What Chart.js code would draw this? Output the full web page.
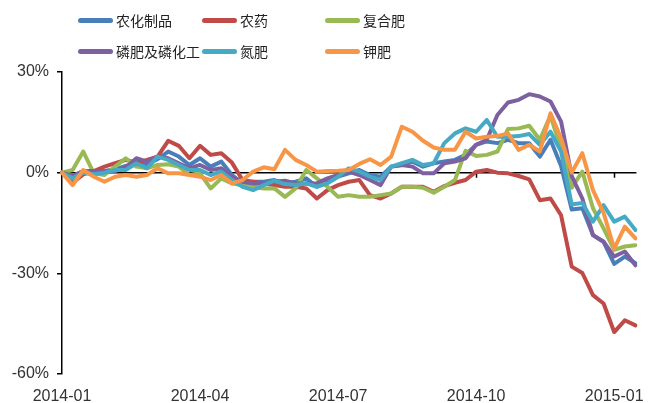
<!DOCTYPE html>
<html>
<head>
<meta charset="utf-8">
<script src="https://cdn.jsdelivr.net/npm/chart.js@4.4.1/dist/chart.umd.min.js"></script>
<style>
  html, body { margin: 0; padding: 0; background: #fff; }
  #wrap { position: relative; width: 657px; height: 403px; }
  #chart { position: absolute; left: 0; top: 0; }
  .leg { position: absolute; height: 20px; display: flex; align-items: center;
         font-family: "Noto Sans CJK SC", sans-serif; font-size: 14px; color: #222; white-space: nowrap; }
  .leg i { display: inline-block; width: 35px; height: 5px; border-radius: 3px; margin-right: 3px; }
</style>
</head>
<body>
<div id="wrap">
  <canvas id="chart" width="657" height="403"></canvas>
</div>
<script>
// Weekly observations, 2014-01-03 .. 2015-01-16
const categories = [
  '2014-01-03','2014-01-10','2014-01-17','2014-01-24','2014-01-31',
  '2014-02-07','2014-02-14','2014-02-21','2014-02-28',
  '2014-03-07','2014-03-14','2014-03-21','2014-03-28',
  '2014-04-04','2014-04-11','2014-04-18','2014-04-25',
  '2014-05-02','2014-05-09','2014-05-16','2014-05-23','2014-05-30',
  '2014-06-06','2014-06-13','2014-06-20','2014-06-27',
  '2014-07-04','2014-07-11','2014-07-18','2014-07-25',
  '2014-08-01','2014-08-08','2014-08-15','2014-08-22','2014-08-29',
  '2014-09-05','2014-09-12','2014-09-19','2014-09-26',
  '2014-10-03','2014-10-10','2014-10-17','2014-10-24','2014-10-31',
  '2014-11-07','2014-11-14','2014-11-21','2014-11-28',
  '2014-12-05','2014-12-12','2014-12-19','2014-12-26',
  '2015-01-02','2015-01-09','2015-01-16'
];
// categories that carry an axis label
const tickIndices = [0, 13, 26, 39, 52];
const tickLabels = ['2014-01', '2014-04', '2014-07', '2014-10', '2015-01'];
const yTicks = [-60, -30, 0, 30];

const seriesNames = ['农化制品', '农药', '复合肥', '磷肥及磷化工', '氮肥', '钾肥'];
const seriesColors = ['#4A7EBB', '#BE4B48', '#98B954', '#7D60A0', '#46AAC5', '#F79646'];

// cumulative change, %
const agrochem = [0,-1,0.5,0,0.5,1,2,3,2.5,4, 6.3,4.8,2.3,4.3,1.8,3.3,-0.7,-3.2,-2.7,-2.7,
  -2.2,-3.2,-2.7,-1.7,-4.2,-2.7,-1.2,-0.2,0.8,-0.7, -1.2,1.8,2.3,3.3,1.8,2.8,3.3,3.8,5.3,8.3,
  9.3,8.8,9.8,8.8,8.8,4.8,9.8,2,-11,-10.6, -18.6,-20.6,-27.2,-25,-27];
const pesticide = [0,-3,-0.5,0.5,1.8,2.8,3.8,3,3.8,4.8, 9.5,8,4.3,8,5.3,5.8,3,-2.2,-2.7,-3.2,
  -3.7,-4.2,-4.2,-4.7,-7.7,-5.2,-3.7,-2.7,-2.2,-6.7, -7.7,-6.2,-4.2,-4.2,-4.2,-5.7,-4,-3,-2.2,0.3,
  0.8,0,-0.2,-1,-2,-8.2,-7.7,-12.7,-28,-29.9, -36.5,-39,-47.5,-44,-45.5];
const compound = [0,0.8,6.3,-0.2,-0.7,1.8,4.3,1.8,1.3,2.3, 2.5,1.8,-0.7,-0.2,-4.7,-1.7,-3.2,-3.7,-4.2,-4.7,
  -4.7,-7.2,-4.7,0.8,-1.7,-4.2,-7.2,-6.7,-7.2,-7.2, -6.7,-6.2,-4.2,-4.2,-4.5,-6,-4.2,-2.2,6.5,5,
  5.3,6.3,13,13.2,14,9.8,17,7,-4.5,0.3, -10.6,-16.6,-23,-22,-21.6];
const phosphate = [0,-1,0.5,0.5,0.3,0.5,1.5,4.3,3.3,4.8, 4.3,2.8,1.3,2.3,0.8,1.3,-1.2,-2.7,-3.2,-3.2,
  -2.7,-2.4,-3.2,-3.2,-3.2,-1.7,-0.7,0.3,-0.7,-2.2, -3.7,1.8,2.3,1.8,-0.2,-0.2,2.8,3.3,4.3,8.3,
  9.8,17.2,20.9,21.7,23.4,22.7,21.2,15.2,-1,-7.7, -18.6,-20.6,-25,-23.5,-27.6];
const nitrogen = [0,-1.7,0,-0.5,0,0.8,0.8,2.8,1.3,4.8, 3.8,2.3,0.8,0.8,-0.7,0.3,-2.2,-4.2,-5.2,-3.7,
  -2.4,-3.4,-3.7,-3.2,-4.2,-3.2,-1.2,1.3,0.3,-1.2, -2.2,1.8,2.8,3.8,2.3,2.8,8.8,11.7,13.2,12.2,
  15.7,10.7,10.7,10.9,11.5,8.3,12.2,6.3,-9.5,-9, -14.6,-9.7,-14.6,-13.1,-17.1];
const potash = [0,-3.7,0.8,-1.2,-2.7,-1.2,-0.7,-1.2,-0.7,1.3, -0.2,-0.2,-0.7,-1.2,-2.2,-0.7,-3.2,-2.2,0.3,1.6,
  1,6.8,3.8,2.3,0.3,0.5,0.6,0.8,2.6,4, 2.3,4.8,13.7,12.2,9.5,7.5,6.8,6.8,12.2,10.2,
  10.7,10.9,11.7,6.8,8.3,6.3,17.7,10.2,0,5.8, -5.2,-12,-22.6,-16.1,-19.6];

const seriesData = [agrochem, pesticide, compound, phosphate, nitrogen, potash];

// legend, two rows of three
const legendCols = [78, 202, 325];
const legendRows = [10, 41];
const wrap = document.getElementById('wrap');
seriesNames.forEach((name, i) => {
  const d = document.createElement('div');
  d.className = 'leg';
  d.style.left = legendCols[i % 3] + 'px';
  d.style.top = legendRows[Math.floor(i / 3)] + 'px';
  const sw = document.createElement('i');
  sw.style.background = seriesColors[i];
  d.appendChild(sw);
  d.appendChild(document.createTextNode(name));
  wrap.appendChild(d);
});

// black zero line with category ticks hanging below it, under the series
const zeroAxis = {
  id: 'zeroAxis',
  beforeDatasetsDraw(chart) {
    const { ctx, chartArea, scales: { x, y } } = chart;
    const y0 = y.getPixelForValue(0);
    ctx.save();
    ctx.strokeStyle = '#000';
    ctx.lineWidth = 1.5;
    ctx.beginPath();
    ctx.moveTo(chartArea.left, y0);
    ctx.lineTo(chartArea.right + 1, y0);
    tickIndices.forEach(idx => {
      if (idx === 0) return;
      const px = Math.round(x.getPixelForValue(idx)) + 0.5;
      ctx.moveTo(px, y0);
      ctx.lineTo(px, y0 + 5);
    });
    ctx.stroke();
    ctx.restore();
  }
};

new Chart(document.getElementById('chart'), {
  type: 'line',
  data: {
    labels: categories,
    datasets: seriesData.map((vals, i) => ({
      label: seriesNames[i],
      data: vals,
      borderColor: seriesColors[i],
      backgroundColor: seriesColors[i],
      borderWidth: 4,
      borderJoinStyle: 'round',
      borderCapStyle: 'round',
      pointRadius: 0,
      tension: 0,
      order: seriesData.length - i
    }))
  },
  options: {
    responsive: false,
    animation: false,
    layout: { padding: { left: 0, right: 12, top: 72, bottom: 0 } },
    plugins: { legend: { display: false }, tooltip: { enabled: false } },
    scales: {
      x: {
        type: 'category',
        offset: false,
        border: { display: false },
        grid: { display: false, drawTicks: false },
        ticks: {
          autoSkip: false,
          maxRotation: 0,
          padding: 13,
          color: '#333',
          font: { family: 'Liberation Sans, Arial, sans-serif', size: 16 },
          callback: (v, idx) => {
            const k = tickIndices.indexOf(idx);
            return k >= 0 ? tickLabels[k] : null;
          }
        },
        afterFit: s => { s.height = 29; }
      },
      y: {
        min: yTicks[0],
        max: yTicks[yTicks.length - 1],
        afterBuildTicks: s => { s.ticks = yTicks.map(v => ({ value: v })); },
        border: { display: true, color: '#000', width: 1.5 },
        grid: { drawOnChartArea: false, drawTicks: true, tickLength: 5, color: '#000', tickColor: '#000', lineWidth: 1.5 },
        ticks: {
          padding: 8,
          color: '#333',
          font: { family: 'Liberation Sans, Arial, sans-serif', size: 16 },
          callback: v => v + '%'
        },
        afterFit: s => { s.width = 62; }
      }
    }
  },
  plugins: [zeroAxis]
});
</script>
</body>
</html>
